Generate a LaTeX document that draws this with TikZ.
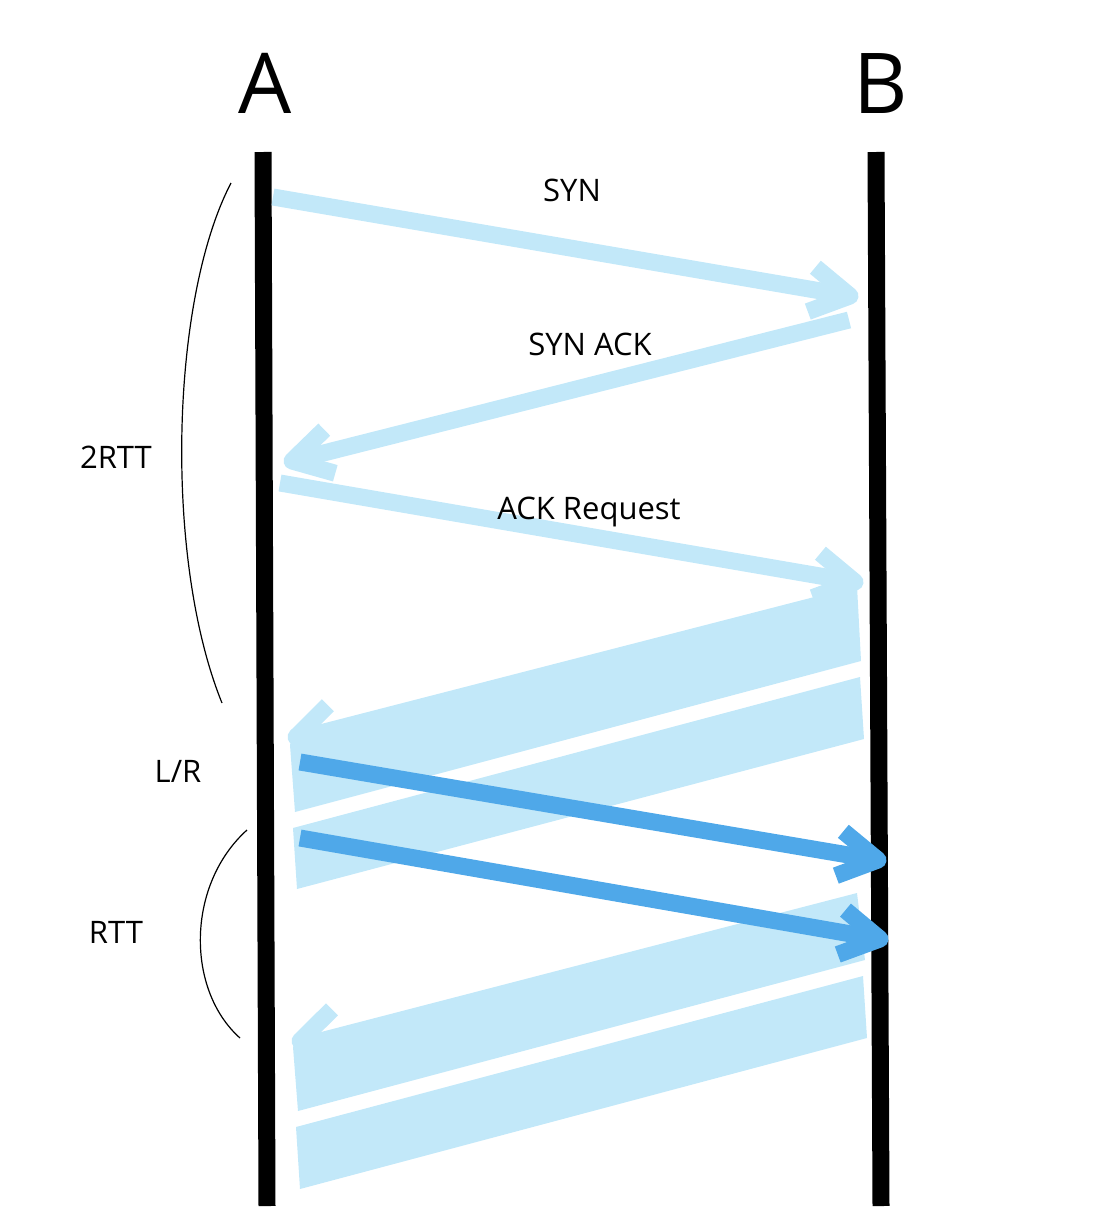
\documentclass[tikz,border=0pt]{standalone}
\usepackage{fontspec}
\setmainfont{Open Sans}
\usetikzlibrary{calc}
\definecolor{lightb}{RGB}{194,232,249}
\definecolor{darkb}{RGB}{79,168,233}
\tikzset{
  lifeline/.style={line width=17pt, draw=black},
  msg/.style={line width=17pt, draw=lightb},
  data/.style={line width=17pt, draw=darkb},
  band/.style={fill=lightb},
  head/.style={line join=round, line cap=butt},
  lbl/.style={font=\fontsize{31}{36}\selectfont, anchor=base, inner sep=0pt},
  big/.style={font=\fontsize{84}{90}\selectfont, anchor=base, inner sep=0pt},
  span/.style={line width=1.2pt, draw=black}
}
\newcommand\mkhead[3]{\draw[#1,head] ($(#3)!45pt!30:(#2)$) -- (#3) -- ($(#3)!45pt!-30:(#2)$);}
\begin{document}
\begin{tikzpicture}[x=1pt,y=-1pt]
\useasboundingbox (0,0) rectangle (1098,1226);

% lifelines
\coordinate (A1) at (263,152);
\coordinate (A2) at (267,1206);
\coordinate (B1) at (876,152);
\coordinate (B2) at (881,1206);
\draw[lifeline] (A1) -- (A2);
\draw[lifeline] (B1) -- (B2);

\node[big] (labA) at (265,113) {A};
\node[big] (labB) at (881,113) {B};

% handshake messages
\coordinate (synS) at (273,197);
\coordinate (synT) at (850,296);
\draw[msg] (synS) -- (synT);
\mkhead{msg}{synS}{synT}
\node[lbl] (synL) at (572,201) {SYN};

\coordinate (saS) at (849,320);
\coordinate (saT) at (292,461);
\draw[msg] (saS) -- (saT);
\mkhead{msg}{saS}{saT}
\node[lbl] (saL) at (590,355) {SYN ACK};

\coordinate (arS) at (280,483);
\coordinate (arT) at (855,582);
\draw[msg] (arS) -- (arT);
\mkhead{msg}{arS}{arT}
\node[lbl] (arL) at (589,519) {ACK Request};

% response bands
\fill[band] (294,731) -- (857,586) -- (861,661) -- (295,812) -- (290,745) -- cycle;
\coordinate (r1S) at (857,588);
\coordinate (r1T) at (296,737);
\mkhead{msg}{r1S}{r1T}
\fill[band] (293,828) -- (860,677) -- (864,739) -- (297,889) -- cycle;

\fill[band] (298,1038) -- (857,893) -- (865,960) -- (298,1111) -- (293,1047) -- cycle;
\coordinate (r2S) at (857,895);
\coordinate (r2T) at (300,1041);
\mkhead{msg}{r2S}{r2T}
\fill[band] (296,1127) -- (863,976) -- (867,1038) -- (300,1189) -- cycle;

% data arrows
\coordinate (d1S) at (300,762);
\coordinate (d1T) at (878,860);
\draw[data] (d1S) -- (d1T);
\mkhead{data}{d1S}{d1T}
\coordinate (d2S) at (300,838);
\coordinate (d2T) at (880,939);
\draw[data] (d2S) -- (d2T);
\mkhead{data}{d2S}{d2T}

% time spans
\draw[span] (231,183) .. controls (170,300) and (164,560) .. (222,703);
\node[lbl] (rtt2) at (116,468) {2RTT};
\node[lbl] (lr) at (178,782) {L/R};
\draw[span] (247,830) .. controls (186,885) and (186,990) .. (240,1038);
\node[lbl] (rtt) at (116,943) {RTT};
\end{tikzpicture}
\end{document}
